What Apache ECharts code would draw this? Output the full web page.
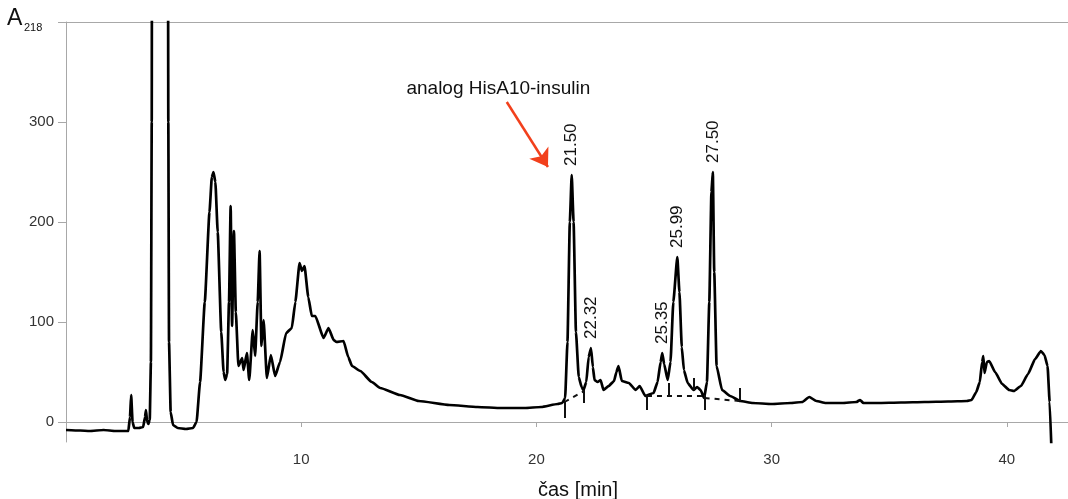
<!DOCTYPE html>
<html>
<head>
<meta charset="utf-8">
<title>Chromatogram</title>
<script src="https://cdn.jsdelivr.net/npm/echarts@6/dist/echarts.min.js"></script>
<style>
  html, body { margin: 0; padding: 0; background: #fff; }
  #chart { width: 1068px; height: 499px; }
</style>
</head>
<body>
<div id="chart"></div>
<script>
// Retention time [min] and absorbance at 218 nm
const times = [
  0, 0.6, 1.0, 1.6, 2.1, 2.65, 2.72, 2.77, 2.83, 2.9, 3.1, 3.28, 3.36, 3.40, 3.45, 3.50, 3.56, 3.61, 3.645, 3.66,
  3.8, 4.2, 4.33, 4.35, 4.38, 4.45, 4.55, 4.75, 5.1, 5.4, 5.55, 5.7, 5.9, 6.1, 6.2, 6.27, 6.35, 6.45, 6.6, 6.7,
  6.77, 6.85, 6.93, 7.0, 7.06, 7.14, 7.22, 7.33, 7.49, 7.55, 7.69, 7.79, 7.94, 8.04, 8.15, 8.23, 8.31, 8.40, 8.54, 8.71,
  8.89, 9.1, 9.36, 9.6, 9.75, 9.93, 10.03, 10.14, 10.3, 10.45, 10.6, 10.95, 11.16, 11.38, 11.5, 11.8, 12.0, 12.16, 12.51, 13.0,
  13.36, 14.2, 15.0, 16.3, 17.5, 18.5, 19.5, 20.2, 20.9, 21.10, 21.22, 21.32, 21.42, 21.50, 21.58, 21.68, 21.80, 21.92, 22.00, 22.12,
  22.22, 22.32, 22.40, 22.47, 22.60, 22.73, 22.85, 23.07, 23.30, 23.40, 23.49, 23.63, 23.93, 24.22, 24.39, 24.63, 24.98, 25.15, 25.28, 25.35,
  25.43, 25.58, 25.70, 25.82, 25.99, 26.08, 26.18, 26.27, 26.43, 26.68, 26.83, 26.98, 27.13, 27.25, 27.35, 27.44, 27.50, 27.56, 27.66, 27.89,
  28.24, 28.66, 29.2, 30.0, 30.8, 31.3, 31.6, 31.9, 32.3, 33.0, 33.6, 33.76, 33.9, 34.5, 35.5, 36.5, 37.5, 38.3, 38.5, 38.7,
  38.85, 38.95, 39.0, 39.05, 39.15, 39.25, 39.5, 39.8, 40.1, 40.3, 40.6, 40.9, 41.2, 41.45, 41.6, 41.73, 41.82, 41.9
];
const absorbance = [
  -8, -8.5, -9, -8, -9, -9, 5, 27, 0, -6, -6, -5, 5, 12, 0, -2, 2, 60, 300, 600,
  1500, 1500, 600, 300, 80, 10, -3, -6, -7, -6, 0, 40, 120, 210, 245, 250, 240, 190, 90, 50,
  42, 48, 120, 216, 96, 191, 110, 56, 64, 52, 69, 42, 92, 66, 120, 171, 76, 102, 44, 67,
  46, 60, 89, 94, 120, 159, 151, 156, 125, 106, 106, 84, 94, 82, 80, 81, 65, 56, 51, 40,
  34, 27, 21, 17, 15, 14, 14, 15, 18, 19, 24, 80, 200, 247, 200, 90, 45, 35, 32, 40,
  65, 74, 55, 42, 40, 42, 32, 36, 41, 50, 56, 41, 39, 32, 36, 26, 29, 40, 60, 69,
  58, 42, 60, 120, 165, 130, 75, 52, 39, 32, 35, 32, 24, 40, 120, 230, 250, 150, 56, 32,
  26, 21, 19, 18, 19, 20, 25, 21, 19, 19, 20, 22, 19, 19, 19.5, 20, 20.5, 21, 22, 30,
  40, 60, 66, 49, 60, 61, 50, 38, 32, 31, 36, 48, 63, 71, 67, 56, 20, -30
];

// Labelled peaks (retention times)
const peakTimes = [21.50, 22.32, 25.35, 25.99, 27.50];

// Integration markers: time, upper and lower absorbance of each drop line
const markerTimes = [21.19, 22.03, 24.70, 25.62, 26.71, 27.15, 28.64];
const markerTop = [21, 32, 27, 39, 44, 27, 34];
const markerBottom = [4, 19, 12, 26, 32, 12, 21];

// Dashed baselines: start time, start value, end time, end value
const baselineStartT = [21.19, 24.70, 27.15];
const baselineStartV = [20, 26, 24];
const baselineEndT = [22.03, 27.15, 28.64];
const baselineEndV = [31, 26, 21];

// Annotation for the HisA10 analog peak
const annotationText = 'analog HisA10-insulin';
const annotationAt = [18.38, 333];
const arrowFrom = [18.74, 320];
const arrowTo = [20.49, 255];

const yTickValues = [0, 100, 200, 300];
const xTickValues = [10, 20, 30, 40];

const FONT = '"Liberation Sans", Arial, Helvetica, sans-serif';
const AXIS_GRAY = '#a8a8a8';
const ARROW_RED = '#f2401c';

const trace = times.map((t, i) => [t, absorbance[i]]);

function valueAt(t) {
  return absorbance[times.indexOf(t)];
}

const peakLabelGap = 9;
const peakMarks = peakTimes.map(t => ({
  coord: [t, valueAt(t) + peakLabelGap],
  value: t.toFixed(2)
}));

const markerLines = markerTimes.map((t, i) => [
  { coord: [t, markerTop[i]] },
  { coord: [t, markerBottom[i]] }
]);
const baselineLines = baselineStartT.map((t, i) => [
  { coord: [t, baselineStartV[i]], lineStyle: { type: [5, 5], width: 2, color: '#111' } },
  { coord: [baselineEndT[i], baselineEndV[i]] }
]);

const chart = echarts.init(document.getElementById('chart'), null, { renderer: 'canvas' });

chart.setOption({
  animation: false,
  backgroundColor: '#fff',
  textStyle: { fontFamily: FONT },
  grid: { left: 66, right: 0, top: 22, bottom: 57, containLabel: false, outerBoundsMode: 'none' },
  graphic: [
    { type: 'text', left: 7, top: 7, style: { text: 'A', fontSize: 23, fontFamily: FONT, fill: '#111' } },
    { type: 'text', left: 24, top: 22, style: { text: '218', fontSize: 11, fontFamily: FONT, fill: '#111' } }
  ],
  xAxis: [
    {
      type: 'value',
      min: 0,
      max: 42.6,
      interval: 10,
      position: 'bottom',
      name: 'čas [min]',
      nameLocation: 'middle',
      nameGap: 38,
      nameTextStyle: { fontSize: 20, color: '#111', fontFamily: FONT, padding: [0, 0, 0, 22] },
      axisLine: { show: true, lineStyle: { color: AXIS_GRAY, width: 1 } },
      axisTick: { show: true, length: 5, lineStyle: { color: AXIS_GRAY }, customValues: xTickValues },
      axisLabel: { fontSize: 15, color: '#333', margin: 10, customValues: xTickValues },
      splitLine: { show: false }
    },
    {
      type: 'value',
      min: 0,
      max: 42.6,
      position: 'top',
      axisLine: { show: true, lineStyle: { color: AXIS_GRAY, width: 1 } },
      axisTick: { show: false },
      axisLabel: { show: false },
      splitLine: { show: false }
    }
  ],
  yAxis: {
    type: 'value',
    min: -20,
    max: 400,
    axisLine: { show: true, lineStyle: { color: AXIS_GRAY, width: 1 } },
    axisTick: { show: true, length: 8, lineStyle: { color: AXIS_GRAY }, customValues: [0, 100, 200, 300, 400] },
    axisLabel: { fontSize: 15, color: '#333', margin: 12, customValues: yTickValues },
    splitLine: { show: false }
  },
  series: [
    {
      name: 'A218',
      type: 'line',
      data: trace,
      showSymbol: false,
      symbol: 'none',
      clip: true,
      smooth: 0.15,
      smoothMonotone: 'x',
      lineStyle: { color: '#000', width: 2.7, join: 'round' },
      markPoint: {
        symbol: 'rect',
        symbolSize: 1,
        itemStyle: { color: 'transparent' },
        label: {
          show: true,
          position: 'inside',
          rotate: 90,
          align: 'left',
          verticalAlign: 'middle',
          fontSize: 17,
          color: '#111',
          fontFamily: FONT,
          formatter: p => p.value
        },
        data: peakMarks
      }
    },
    {
      name: 'integration',
      type: 'line',
      data: [],
      markLine: {
        silent: true,
        symbol: ['none', 'none'],
        label: { show: false },
        lineStyle: { color: '#111', width: 2, type: 'solid' },
        data: markerLines.concat(baselineLines)
      }
    },
    {
      name: 'annotation',
      type: 'line',
      data: [],
      markLine: {
        silent: true,
        symbol: ['none', 'arrow'],
        symbolSize: 17,
        label: { show: false },
        lineStyle: { color: ARROW_RED, width: 2.5, type: 'solid' },
        itemStyle: { color: ARROW_RED },
        data: [[{ coord: arrowFrom }, { coord: arrowTo }]]
      },
      markPoint: {
        symbol: 'rect',
        symbolSize: 1,
        itemStyle: { color: 'transparent' },
        label: {
          show: true,
          position: 'inside',
          fontSize: 19,
          color: '#111',
          fontFamily: FONT,
          formatter: () => annotationText
        },
        data: [{ coord: annotationAt, value: 0 }]
      }
    }
  ]
});
</script>
</body>
</html>
